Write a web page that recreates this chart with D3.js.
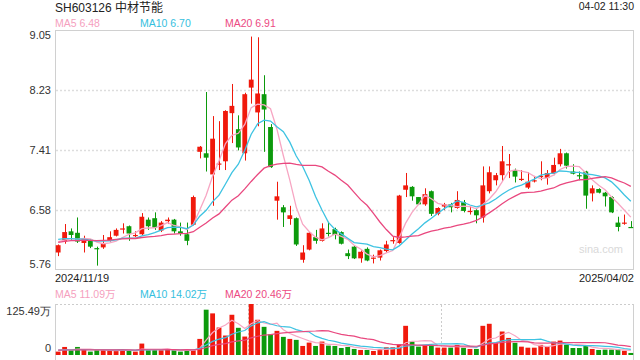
<!DOCTYPE html>
<html lang="zh">
<head>
<meta charset="utf-8">
<script src="https://d3js.org/d3.v7.min.js"></script>
<style>
  body { margin: 0; background: #fff; }
  svg { display: block; font-family: "Liberation Sans", Arial, "Noto Sans CJK SC", sans-serif; }
</style>
</head>
<body>
<script>
// daily candles, 2024/11/19 .. 2025/04/02 (90 trading days)
var open = [6.00,6.15,6.29,6.27,6.13,6.16,6.06,6.07,6.16,6.23, 6.32,6.36,6.23,6.25,6.45,6.47,6.30,6.43,6.45,6.29,
            6.25,6.38,7.38,7.36,7.07,7.21,7.25,7.91,7.69,7.36, 8.26,7.92,8.17,7.72,6.71,6.62,6.46,6.47,5.90,6.04,
            6.21,6.16,6.27,6.32,6.28,5.99,6.08,5.92,6.05,5.92, 5.93,6.02,6.16,6.13,6.86,6.90,6.76,6.66,6.84,6.53,
            6.63,6.66,6.61,6.69,6.56,6.58,6.48,6.84,6.99,7.06, 7.20,7.13,7.00,6.89,6.98,7.04,7.02,7.08,7.21,7.36,
            7.11,7.06,7.11,6.81,6.87,6.82,6.76,6.41,6.40,6.35];
var high = [6.11,6.39,6.33,6.48,6.23,6.18,6.08,6.24,6.29,6.33, 6.40,6.37,6.29,6.54,6.48,6.55,6.43,6.48,6.46,6.41,
            6.41,6.78,7.46,8.20,7.87,7.80,7.95,8.31,7.88,8.19, 8.96,8.95,8.43,7.76,6.97,6.65,6.64,6.48,6.10,6.28,
            6.31,6.40,6.42,6.34,6.29,6.04,6.10,6.03,6.07,5.97, 6.04,6.16,6.21,6.79,7.09,6.91,6.76,6.88,6.85,6.62,
            6.68,6.68,6.84,6.72,6.63,6.60,7.18,7.18,7.09,7.46, 7.35,7.15,7.13,7.10,7.05,7.25,7.13,7.30,7.42,7.37,
            7.21,7.11,7.12,6.92,6.88,6.83,6.77,6.49,6.52,6.43];
var low = [5.95,6.12,6.16,6.13,6.00,6.06,5.82,6.05,6.15,6.22, 6.26,6.16,6.21,6.24,6.31,6.31,6.28,6.39,6.26,6.23,
           6.10,6.37,7.29,7.11,6.64,7.13,7.13,7.50,7.40,7.26, 8.04,7.73,7.38,7.16,6.45,6.35,6.38,6.09,5.86,6.03,
           6.12,6.15,6.22,6.18,6.11,5.91,5.91,5.86,5.88,5.85, 5.89,6.00,6.12,6.12,6.76,6.71,6.65,6.64,6.50,6.51,
           6.58,6.55,6.60,6.55,6.52,6.40,6.41,6.81,6.92,6.98, 7.02,6.96,6.98,6.87,6.96,6.99,6.93,7.06,7.18,7.15,
           7.07,6.99,6.60,6.70,6.81,6.63,6.54,6.29,6.38,6.34];
var close = [6.10,6.28,6.24,6.15,6.19,6.08,6.05,6.13,6.21,6.31, 6.33,6.26,6.24,6.49,6.36,6.34,6.41,6.45,6.29,6.26,
             6.16,6.76,7.45,7.30,7.56,7.22,7.94,8.01,7.44,8.17, 8.37,8.18,7.96,7.17,6.77,6.55,6.51,6.11,6.00,6.27,
             6.16,6.33,6.26,6.24,6.12,5.95,5.92,6.01,5.89,5.93, 6.03,6.11,6.17,6.78,6.92,6.77,6.66,6.80,6.53,6.61,
             6.66,6.62,6.72,6.57,6.57,6.51,6.92,7.10,7.06,7.25, 7.21,7.04,7.01,6.97,6.99,7.05,7.09,7.20,7.36,7.19,
             7.08,7.05,6.78,6.88,6.82,6.77,6.55,6.35,6.41,6.34];
// volume in 万
var volume = [8.3,19.8,11.6,19.8,13.2,8.3,11.6,11.6,11.6,11.6, 11.6,11.6,8.3,28.1,11.6,11.6,11.6,14.9,11.6,8.3,
              11.6,11.6,39.6,111.5,102.4,67.7,47.9,99.0,66.9,45.4, 125.49,86.7,69.3,51.2,59.4,44.6,39.6,37.2,22.3,30.5,
              22.3,33.0,23.1,22.3,17.3,19.8,14.9,12.4,12.4,9.9, 14.9,19.0,19.0,26.4,71.8,33.0,20.6,24.8,23.1,18.2,
              18.2,18.2,24.8,18.2,14.9,14.9,71.8,76.8,30.5,57.8, 42,30,20.5,18,18,25,21.5,33,35.5,25.5,
              17.2,17.2,23.1,14.9,12.35,13.2,13.2,13.5,10.5,5.05];
// sessions before the window, only feed the moving averages
var prevClose = [6.02,6.05,6.12,6.08,6.15,6.10,6.06,6.13,6.14,6.15,6.18,6.24,6.22,6.19,6.22,6.17,6.14,6.18,6.15];
var prevVolume = [11,13,12,10,14,12,11,13,12,12,13,11,12,14,12,11,12,13,12];

var priceTicks = [9.05, 8.23, 7.41, 6.58, 5.76];
var volTicks = [125.49, 0];
var dateLabels = ["2024/11/19", "2025/04/02"];
var volDividers = [30, 60];
var maPeriods = [5, 10, 20];
var maColors = ["#f7a6c3", "#3ec3e2", "#e9487f"];
var maTextColors = ["#f59fbe", "#35c0de", "#ec4a82"];

var red = "#f0190c", green = "#0c9a0c";

function movingAvg(prev, vals, n) {
  var all = prev.concat(vals);
  return vals.map(function(d, i) {
    var j = i + prev.length;
    return d3.mean(all.slice(j - n + 1, j + 1));
  });
}

var svg = d3.select("body").append("svg").attr("width", 640).attr("height", 360);

var x = d3.scaleBand().domain(d3.range(close.length)).range([55, 634])
  .paddingInner(0.25).paddingOuter(0.12);
var y = d3.scaleLinear().domain([5.76, 9.05]).range([270, 30]);
var vy = d3.scaleLinear().domain([0, 125.49]).range([355, 304]);
var cx = function(i) { return Math.round(x(i) + x.bandwidth() / 2) + 0.5; };

// title
svg.append("text").attr("x", 55).attr("y", 12).attr("font-size", 12).attr("fill", "#222")
  .text("SH603126 中材节能");
svg.append("text").attr("x", 634).attr("y", 10).attr("font-size", 10.5).attr("fill", "#222")
  .attr("text-anchor", "end").text("04-02 11:30");

// price grid + frame
svg.selectAll(".grid").data(priceTicks.slice(1, -1)).enter().append("line")
  .attr("x1", 56).attr("x2", 633)
  .attr("y1", function(d) { return Math.round(y(d)) + 0.5; })
  .attr("y2", function(d) { return Math.round(y(d)) + 0.5; })
  .attr("stroke", "#ddd").attr("stroke-width", 1.5).attr("stroke-dasharray", "2,2");
svg.append("rect").attr("x", 55.5).attr("y", 30.5).attr("width", 578).attr("height", 239)
  .attr("fill", "none").attr("stroke", "#d0d0d0");

svg.append("text").attr("x", 623).attr("y", 253).attr("text-anchor", "end")
  .attr("font-size", 11).attr("fill", "#d9d9d9").text("sina.com");

var yAxis = svg.append("g").attr("transform", "translate(55,0)")
  .call(d3.axisLeft(y).tickValues(priceTicks).tickSize(0).tickPadding(4).tickFormat(d3.format(".2f")));
yAxis.select(".domain").remove();
yAxis.selectAll("text").attr("font-size", 11).attr("fill", "#333")
  .attr("font-family", null)
  .attr("transform", function(d, i) { return i == 0 ? "translate(0,5)" : i == priceTicks.length - 1 ? "translate(0,-6)" : null; });

// candles
var candles = svg.append("g").selectAll("g").data(close).enter().append("g");
candles.append("line")
  .attr("x1", function(d, i) { return cx(i); }).attr("x2", function(d, i) { return cx(i); })
  .attr("y1", function(d, i) { return y(high[i]); }).attr("y2", function(d, i) { return y(low[i]); })
  .attr("stroke", function(d, i) { return d >= open[i] ? red : green; });
candles.append("rect")
  .attr("x", function(d, i) { return x(i); })
  .attr("width", x.bandwidth())
  .attr("y", function(d, i) { return y(Math.max(d, open[i])); })
  .attr("height", function(d, i) { return Math.max(1.2, Math.abs(y(d) - y(open[i]))); })
  .attr("fill", function(d, i) { return d >= open[i] ? red : green; });

// price MAs
var line = d3.line().x(function(d, i) { return x(i) + x.bandwidth() / 2; });
maPeriods.forEach(function(n, k) {
  var ma = movingAvg(prevClose, close, n);
  svg.append("path").datum(ma).attr("fill", "none").attr("stroke", maColors[k]).attr("stroke-width", 1.3)
    .attr("d", line.y(function(d) { return y(d); }));
  svg.append("text").attr("x", 55 + 85 * k).attr("y", 27).attr("font-size", 10.5).attr("fill", maTextColors[k])
    .text("MA" + n + " " + ma[ma.length - 1].toFixed(2));
});

// date labels
svg.append("text").attr("x", 55).attr("y", 281.5).attr("font-size", 11).attr("fill", "#222").text(dateLabels[0]);
svg.append("text").attr("x", 634).attr("y", 281.5).attr("font-size", 11).attr("fill", "#222")
  .attr("text-anchor", "end").text(dateLabels[1]);

// volume panel
svg.append("line").attr("x1", 56).attr("x2", 634).attr("y1", 304.5).attr("y2", 304.5)
  .attr("stroke", "#ccc").attr("stroke-dasharray", "2,2").attr("stroke-width", 1.2);
svg.selectAll(".vdiv").data(volDividers).enter().append("line")
  .attr("x1", function(d) { return Math.round(x(d) - x.step() * x.paddingInner() / 2) + 0.5; })
  .attr("x2", function(d) { return Math.round(x(d) - x.step() * x.paddingInner() / 2) + 0.5; })
  .attr("y1", 305).attr("y2", 356)
  .attr("stroke", "#ccc").attr("stroke-dasharray", "2,2");
svg.append("line").attr("x1", 55.5).attr("x2", 55.5).attr("y1", 304).attr("y2", 360).attr("stroke", "#d0d0d0");
svg.append("line").attr("x1", 633.5).attr("x2", 633.5).attr("y1", 304).attr("y2", 360).attr("stroke", "#d0d0d0");

var vAxis = svg.append("g").attr("transform", "translate(55,0)")
  .call(d3.axisLeft(vy).tickValues(volTicks).tickSize(0).tickPadding(4)
    .tickFormat(function(d) { return d ? d.toFixed(2) + "万" : "0"; }));
vAxis.select(".domain").remove();
vAxis.selectAll("text").attr("font-size", 11).attr("fill", "#333").attr("font-family", null)
  .attr("transform", function(d, i) { return i == 0 ? "translate(0,7)" : "translate(0,-7)"; });

svg.append("g").selectAll("rect").data(volume).enter().append("rect")
  .attr("x", function(d, i) { return x(i); })
  .attr("width", x.bandwidth())
  .attr("y", function(d) { return vy(d); })
  .attr("height", function(d) { return vy(0) - vy(d); })
  .attr("fill", function(d, i) { return close[i] >= open[i] ? red : green; });

maPeriods.forEach(function(n, k) {
  var ma = movingAvg(prevVolume, volume, n);
  svg.append("path").datum(ma).attr("fill", "none").attr("stroke", maColors[k]).attr("stroke-width", 1.2)
    .attr("d", line.y(function(d) { return vy(d); }));
  svg.append("text").attr("x", 55 + 85 * k).attr("y", 298).attr("font-size", 10.5).attr("fill", maTextColors[k])
    .text("MA" + n + " " + ma[ma.length - 1].toFixed(2) + "万");
});
</script>
</body>
</html>
